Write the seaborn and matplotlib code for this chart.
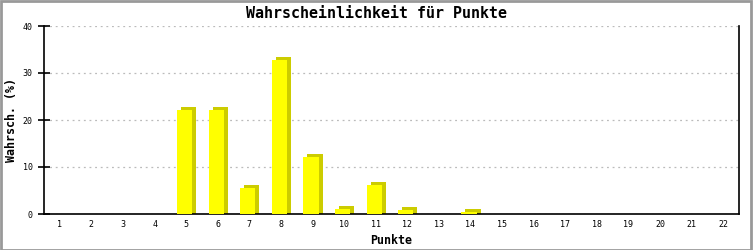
import matplotlib
matplotlib.use("Agg")
import matplotlib.pyplot as plt
import matplotlib.transforms as mtransforms
from matplotlib.patches import Rectangle
import seaborn as sns
import pandas as pd

categories = [str(i) for i in range(1, 23)]
values = [0, 0, 0, 0, 22.2, 22.2, 5.5, 32.8, 12.2, 1.1, 6.2, 0.8, 0, 0.4,
          0, 0, 0, 0, 0, 0, 0, 0]
yticks = [0, 10, 20, 30, 40]

df = pd.DataFrame({"Punkte": categories, "Wert": values})

sns.set_theme(style="white")
plt.rcParams['font.family'] = ['DejaVu Sans Mono', 'DejaVu Sans']
plt.rcParams['text.color'] = 'black'
plt.rcParams['axes.labelcolor'] = 'black'
plt.rcParams['xtick.color'] = 'black'
plt.rcParams['ytick.color'] = 'black'

fig = plt.figure(figsize=(7.53, 2.5), dpi=100)
ax = fig.add_axes([44 / 753, 1 - 214 / 250, 695 / 753, 188 / 250])

# shadow bars (3D effect)
sns.barplot(data=df, x="Punkte", y="Wert", color="#cccc00", width=0.48,
            saturation=1, ax=ax, zorder=2, order=categories)
shadow_patches = list(ax.patches)
off_sh = mtransforms.ScaledTranslation(2.5 / 100, 3 / 100, fig.dpi_scale_trans)
for p in shadow_patches:
    if p.get_height() > 0:
        p.set_y(-1.0)
        p.set_height(p.get_height() + 1.0)
    else:
        p.set_visible(False)
    p.set_linewidth(0)
    p.set_transform(ax.transData + off_sh)

# face bars
sns.barplot(data=df, x="Punkte", y="Wert", color="#ffff00", width=0.48,
            saturation=1, ax=ax, zorder=3, order=categories)
off_f = mtransforms.ScaledTranslation(-1.5 / 100, 0, fig.dpi_scale_trans)
for p in ax.patches[len(shadow_patches):]:
    if p.get_height() <= 0:
        p.set_visible(False)
    p.set_linewidth(0)
    p.set_transform(ax.transData + off_f)

ax.set_xlim(-0.5, len(categories) - 0.5)
ax.set_ylim(0, 40)
ax.set_yticks(yticks)
ax.set_yticklabels([str(t) for t in yticks])
ax.yaxis.grid(True, color="#bbbbbb", linestyle=(0, (1.5, 3)), linewidth=0.9)
ax.set_axisbelow(True)

for s in ["left", "right", "bottom"]:
    ax.spines[s].set_visible(True)
    ax.spines[s].set_color("black")
    ax.spines[s].set_linewidth(1.2)
ax.spines["top"].set_visible(False)

ax.tick_params(axis="y", which="both", left=True, direction="inout",
               length=8, width=1.2, color="black", labelsize=6, pad=4)
ax.tick_params(axis="x", bottom=True, length=0, labelsize=6, pad=4)

ax.set_xlabel("Punkte", fontsize=8.4, fontweight="bold", va="center")
ax.set_ylabel("Wahrsch. (%)", fontsize=8.4, fontweight="bold", va="center")
ax.xaxis.set_label_coords(0.5, (214 - 241) / 188)
ax.yaxis.set_label_coords((11 - 44) / 695, 0.5)
fig.text(0.5, 1 - 14 / 250, "Wahrscheinlichkeit für Punkte", ha="center",
         va="center", fontsize=10.8, fontweight="bold", color="black")

fig.patches.append(Rectangle((0.001, 0.002), 0.996, 0.994,
                             transform=fig.transFigure, fill=False,
                             edgecolor="#999999", linewidth=2))

fig.savefig("out.png", dpi=100, facecolor="white")
